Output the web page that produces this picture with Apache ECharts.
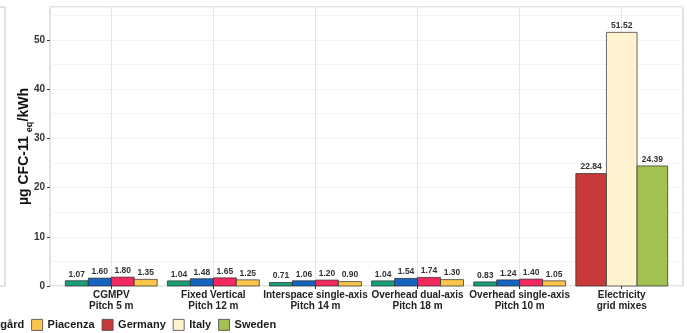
<!DOCTYPE html>
<html>
<head>
<meta charset="utf-8">
<script src="https://cdn.jsdelivr.net/npm/echarts@6/dist/echarts.min.js"></script>
<style>
  html, body { margin: 0; padding: 0; background: #fff; }
  #chart { width: 687px; height: 333px; }
</style>
</head>
<body>
<div id="chart"></div>
<script>
// Ozone depletion per kWh: agrivoltaic designs at four sites, plus national grid mixes
const categories = [
  'CGMPV\nPitch 5 m',
  'Fixed Vertical\nPitch 12 m',
  'Interspace single-axis\nPitch 14 m',
  'Overhead dual-axis\nPitch 18 m',
  'Overhead single-axis\nPitch 10 m',
  'Electricity\ngrid mixes'
];
const siteNames = ['Heggelbach', 'Dürnast', 'Kärrbo Prästgård', 'Piacenza'];
const siteValues = [
  [1.07, 1.04, 0.71, 1.04, 0.83],
  [1.60, 1.48, 1.06, 1.54, 1.24],
  [1.80, 1.65, 1.20, 1.74, 1.40],
  [1.35, 1.25, 0.90, 1.30, 1.05]
];
const gridNames = ['Germany', 'Italy', 'Sweden'];
const gridValues = [22.84, 51.52, 24.39];
const yTicks = [0, 10, 20, 30, 40, 50];
const yMax = 56.67;

const siteColors = ['#17a077', '#1565c0', '#f2285f', '#fcc64c'];
const gridColors = ['#c8393a', '#fff2cf', '#a3c052'];

const FONT = '"Liberation Sans", Arial, sans-serif';
const catPos = categories.map((_, i) => i + 1);

// each category spans 0.9 units, split evenly between its bars
function renderBar(params, api) {
  const x = api.value(0), v = api.value(1), slot = api.value(2), n = api.value(3);
  const w = 0.9 / n;
  const x0 = x - 0.45 + slot * w;
  const p0 = api.coord([x0, 0]);
  const p1 = api.coord([x0 + w, v]);
  return {
    type: 'group',
    children: [
      {
        type: 'rect',
        shape: { x: p0[0], y: p1[1], width: p1[0] - p0[0], height: p0[1] - p1[1] },
        style: { fill: api.visual('color'), stroke: '#2a2a2a', lineWidth: 0.7 }
      },
      {
        type: 'text',
        x: (p0[0] + p1[0]) / 2,
        y: p1[1] - 2,
        style: {
          text: v.toFixed(2), align: 'center', verticalAlign: 'bottom',
          font: 'bold 8.5px ' + FONT, fill: '#333'
        }
      }
    ]
  };
}

const series = [];
siteNames.forEach((name, s) => {
  series.push({
    name, type: 'custom', renderItem: renderBar,
    itemStyle: { color: siteColors[s] },
    encode: { x: 0, y: 1 },
    data: siteValues[s].map((v, i) => [i + 1, v, s, 4])
  });
});
gridNames.forEach((name, g) => {
  series.push({
    name, type: 'custom', renderItem: renderBar,
    itemStyle: { color: gridColors[g] },
    encode: { x: 0, y: 1 },
    data: [[6, gridValues[g], g, 3]]
  });
});

// legend is wider than the panel; shift it so the Swedish site label is clipped at the edge
const LEGEND_FONT_SIZE = 11;
const ctx = document.createElement('canvas').getContext('2d');
ctx.font = 'bold ' + LEGEND_FONT_SIZE + 'px ' + FONT;
const iconW = 11, iconGap = 5, itemGap = 7;
let lead = 0;
for (let i = 0; i < 3; i++) {
  lead += iconW + iconGap + ctx.measureText(siteNames[i]).width;
  if (i < 2) lead += itemGap;
}
const legendLeft = 23 - lead;

// subscript width measured at its own size
ctx.font = 'bold 9px ' + FONT;
const subWidth = Math.ceil(ctx.measureText('eq').width);

const chart = echarts.init(document.getElementById('chart'), null, { renderer: 'canvas' });
chart.setOption({
  animation: false,
  backgroundColor: '#fff',
  grid: {
    left: 50, right: 4, top: 7, bottom: 47,
    show: true, borderColor: '#c4c4c4', borderWidth: 1
  },
  legend: {
    left: legendLeft, top: 319, padding: 0,
    icon: 'rect', itemWidth: iconW, itemHeight: iconW, itemGap: itemGap,
    itemStyle: { borderColor: '#444', borderWidth: 0.8 },
    textStyle: { fontFamily: FONT, fontWeight: 'bold', fontSize: LEGEND_FONT_SIZE, color: '#1a1a1a' },
    data: siteNames.concat(gridNames)
  },
  xAxis: {
    type: 'value', min: 0.4, max: 6.6,
    axisLine: { show: false },
    axisTick: { show: true, length: 3, customValues: catPos, lineStyle: { color: '#333' } },
    axisLabel: {
      customValues: catPos,
      formatter: v => categories[Math.round(v) - 1] || '',
      fontFamily: FONT, fontWeight: 'bold', fontSize: 10, color: '#222',
      lineHeight: 11, margin: 4
    },
    splitLine: { show: true, lineStyle: { color: '#e6e6e6', width: 1 } }
  },
  yAxis: [
    {
      type: 'value', min: 0, max: yMax, position: 'left',
      axisLine: { show: false },
      axisTick: { show: true, length: 3, customValues: yTicks, lineStyle: { color: '#333' } },
      axisLabel: {
        customValues: yTicks,
        fontFamily: FONT, fontWeight: 'bold', fontSize: 10, color: '#333', margin: 5
      },
      splitLine: { show: true, lineStyle: { color: '#e3e3e3', width: 1 } },
      name: '{a|µg CFC-11 }{s|eq}{a|/kWh}',
      nameLocation: 'middle', nameGap: 16, nameRotate: 90,
      nameMoveOverlap: false,
      nameTextStyle: {
        fontFamily: FONT, fontWeight: 'bold', fontSize: 14, color: '#111',
        rich: {
          a: { fontFamily: FONT, fontWeight: 'bold', fontSize: 14, color: '#111', lineHeight: 17, verticalAlign: 'top' },
          s: {
            fontFamily: FONT, fontWeight: 'bold', fontSize: 9, color: '#111', lineHeight: 10,
            verticalAlign: 'bottom', width: subWidth
          }
        }
      }
    },
    {
      // lighter half-step gridlines
      type: 'value', min: 0, max: yMax, interval: 5, position: 'left',
      axisLine: { show: false }, axisTick: { show: false }, axisLabel: { show: false },
      splitLine: { show: true, lineStyle: { color: '#f3f3f3', width: 1 } }
    }
  ],
  graphic: [
    {
      type: 'rect', silent: true, z: -1,
      shape: { x: -40, y: 7, width: 45, height: 279 },
      style: { fill: 'none', stroke: '#c4c4c4', lineWidth: 1 }
    }
  ],
  series
});
</script>
</body>
</html>
